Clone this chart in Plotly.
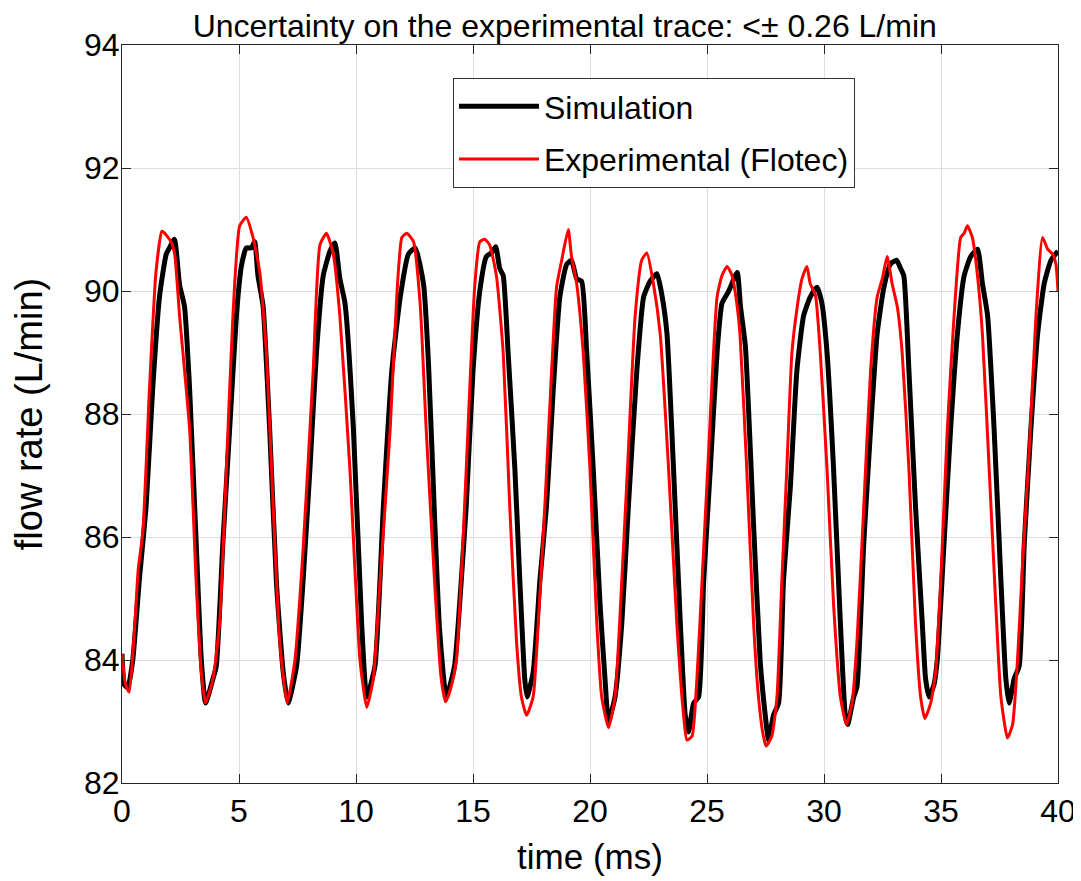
import plotly.graph_objects as go

# ---- data ----
sim_t = [0.0, 0.1, 0.25, 0.46, 0.74, 1.03, 1.31, 1.6, 1.89, 2.03, 2.24, 2.46, 2.67, 2.89, 3.17, 3.39, 3.57, 3.89, 4.03,
         4.31, 4.6, 4.89, 5.1, 5.31, 5.53, 5.67, 5.81, 6.03, 6.31, 6.6, 6.89, 7.1, 7.46, 7.74, 8.03, 8.31, 8.6, 8.89,
         9.1, 9.31, 9.53, 9.89, 10.24, 10.46, 10.81, 11.17, 11.53, 11.89, 12.24, 12.53, 12.89, 13.1, 13.36, 13.57,
         13.86, 14.21, 14.5, 14.71, 15.0, 15.29, 15.57, 15.79, 15.97, 16.14, 16.29, 16.5, 16.79, 17.0, 17.21, 17.31,
         17.57, 17.86, 18.14, 18.43, 18.71, 19.0, 19.21, 19.43, 19.64, 19.86, 20.14, 20.43, 20.64, 20.79, 21.07,
         21.36, 21.64, 22.0, 22.29, 22.57, 22.86, 23.07, 23.29, 23.57, 23.86, 24.07, 24.21, 24.43, 24.64, 24.86,
         25.14, 25.43, 25.64, 25.93, 26.29, 26.43, 26.64, 26.99, 27.27, 27.49, 27.63, 27.84, 28.06, 28.27, 28.56,
         28.84, 29.13, 29.41, 29.7, 29.91, 30.13, 30.41, 30.7, 30.91, 31.01, 31.27, 31.41, 31.7, 31.99, 32.27, 32.56,
         32.84, 33.1, 33.27, 33.41, 33.63, 33.91, 34.2, 34.34, 34.49, 34.7, 34.84, 35.13, 35.41, 35.7, 35.99, 36.27,
         36.56, 36.77, 36.99, 37.27, 37.56, 37.77, 37.91, 38.13, 38.34, 38.56, 38.84, 39.13, 39.41, 39.7, 40.0]
sim_q = [84.1, 83.6, 83.55, 84.0, 85.3, 86.5, 88.4, 89.9, 90.6, 90.7, 90.84, 90.1, 89.75, 88.4, 85.9, 84.0, 83.3, 83.7,
         83.9, 85.9, 87.75, 89.6, 90.4, 90.7, 90.7, 90.8, 90.25, 89.75, 87.75, 85.26, 83.8, 83.3, 83.9, 85.3, 87.1,
         89.0, 90.25, 90.65, 90.78, 90.2, 89.8, 87.75, 84.6, 83.4, 83.9, 86.5, 88.7, 89.9, 90.6, 90.7, 90.1, 88.8,
         86.3, 84.5, 83.4, 83.9, 85.3, 86.5, 88.7, 90.0, 90.56, 90.62, 90.72, 90.37, 90.25, 89.0, 87.1, 85.3, 83.7,
         83.4, 83.8, 85.3, 86.5, 88.4, 89.9, 90.43, 90.5, 90.2, 90.16, 89.0, 87.1, 84.9, 83.7, 83.0, 83.4, 84.6, 86.5,
         88.7, 89.9, 90.16, 90.28, 89.94, 89.3, 87.1, 84.6, 83.1, 82.83, 83.3, 83.4, 85.3, 87.1, 89.0, 89.8, 90.0,
         90.3, 89.75, 89.1, 86.2, 84.0, 83.1, 82.7, 83.1, 83.3, 85.3, 86.8, 88.7, 89.6, 89.9, 90.06, 89.8, 89.0, 87.1,
         84.6, 83.1, 82.95, 83.4, 83.57, 85.9, 87.75, 89.3, 90.06, 90.44, 90.5, 90.37, 90.25, 88.7, 86.5, 84.6, 83.7,
         83.4, 83.6, 84.0, 85.9, 87.75, 89.3, 90.25, 90.56, 90.68, 90.12, 89.6, 87.75, 85.3, 83.7, 83.3, 83.7, 83.9,
         85.9, 87.75, 89.3, 90.12, 90.5, 90.65]

exp_t = [0.0, 0.15, 0.31, 0.5, 0.7, 0.89, 1.17, 1.45, 1.7, 1.8, 2.1, 2.25, 2.46, 2.89, 3.17, 3.39, 3.57, 3.89, 4.17,
         4.46, 4.74, 5.03, 5.31, 5.6, 5.89, 6.17, 6.46, 6.74, 7.06, 7.39, 7.74, 8.17, 8.46, 8.74, 9.03, 9.31, 9.74,
         10.17, 10.46, 10.74, 11.03, 11.46, 11.74, 11.96, 12.17, 12.46, 12.74, 13.0, 13.36, 13.64, 13.83, 14.07,
         14.29, 14.57, 14.86, 15.07, 15.29, 15.5, 15.71, 16.0, 16.29, 16.57, 16.86, 17.07, 17.29, 17.57, 17.79,
         18.07, 18.36, 18.57, 18.79, 19.07, 19.21, 19.43, 19.71, 20.0, 20.29, 20.5, 20.79, 21.07, 21.36, 21.64,
         21.93, 22.21, 22.43, 22.71, 23.0, 23.36, 23.71, 24.0, 24.14, 24.36, 24.57, 24.79, 25.07, 25.43, 25.64,
         25.86, 26.07, 26.29, 26.41, 26.7, 26.99, 27.2, 27.41, 27.53, 27.77, 27.99, 28.2, 28.41, 28.63, 28.84,
         29.06, 29.27, 29.41, 29.63, 29.84, 30.13, 30.41, 30.7, 30.96, 31.2, 31.41, 31.7, 31.99, 32.27, 32.49,
         32.7, 32.91, 33.13, 33.34, 33.63, 33.91, 34.13, 34.31, 34.56, 34.77, 34.99, 35.27, 35.56, 35.84, 35.99,
         36.13, 36.34, 36.56, 36.77, 37.06, 37.34, 37.56, 37.84, 38.06, 38.27, 38.49, 38.77, 39.06, 39.34, 39.56,
         39.77, 39.91, 40.0]
exp_q = [84.1, 83.6, 83.48, 84.3, 85.5, 86.07, 88.38, 90.3, 90.97, 90.95, 90.8, 90.6, 89.6, 87.75, 85.26, 83.8, 83.3,
         83.7, 84.6, 87.1, 89.6, 91.06, 91.2, 90.87, 90.3, 89.0, 86.5, 84.3, 83.3, 84.0, 85.8, 88.7, 90.75, 90.94,
         90.6, 89.6, 87.1, 84.0, 83.23, 83.7, 85.3, 87.75, 89.9, 90.87, 90.94, 90.8, 89.8, 87.75, 85.26, 83.7, 83.32,
         83.57, 84.0, 85.9, 88.4, 90.06, 90.8, 90.84, 90.75, 90.25, 89.0, 86.5, 84.3, 83.4, 83.1, 83.4, 84.6, 86.5,
         88.7, 90.06, 90.5, 91.0, 90.56, 90.12, 89.0, 87.1, 84.6, 83.4, 82.9, 83.4, 85.3, 87.4, 89.6, 90.5, 90.62,
         90.12, 89.3, 87.1, 84.6, 83.1, 82.7, 82.76, 83.7, 85.3, 87.4, 89.9, 90.25, 90.4, 90.25, 89.75, 89.3, 87.1,
         84.6, 83.4, 82.76, 82.6, 82.76, 83.4, 85.3, 87.1, 89.0, 89.7, 90.2, 90.4, 90.12, 89.94, 89.0, 87.1, 84.9,
         83.4, 82.95, 83.3, 84.3, 86.5, 88.7, 89.9, 90.2, 90.56, 90.12, 89.75, 89.0, 87.1, 84.6, 83.4, 83.05, 83.3,
         83.8, 85.3, 87.75, 89.6, 90.87, 90.94, 91.06, 90.87, 90.25, 89.3, 87.1, 84.9, 83.4, 82.73, 82.95, 84.0, 85.6,
         87.4, 89.6, 90.87, 90.68, 90.6, 90.44, 90.0]

x_ticks = [0, 5, 10, 15, 20, 25, 30, 35, 40]
y_ticks = [82, 84, 86, 88, 90, 92, 94]

title_text = "Uncertainty on the experimental trace: <\u00b1 0.26 L/min"
FONT = "Liberation Sans, Arial, sans-serif"

fig = go.Figure()
fig.add_trace(go.Scatter(x=sim_t, y=sim_q, mode="lines", name="Simulation", legendgroup="a",
                         line=dict(color="black", width=5, shape="spline", smoothing=0.5)))
fig.add_trace(go.Scatter(x=exp_t, y=exp_q, mode="lines", name="Experimental (Flotec)", legendgroup="b",
                         line=dict(color="#ff0000", width=3, shape="spline", smoothing=0.5)))

axis_common = dict(showline=True, linecolor="#262626", linewidth=1, mirror="ticks", ticks="inside",
                   ticklen=9, tickcolor="#262626", showgrid=True, gridcolor="#dedede", gridwidth=1,
                   zeroline=False, automargin=False,
                   tickfont=dict(size=32, color="#000000", family=FONT))

fig.update_xaxes(range=[0, 40], tickvals=x_ticks, ticktext=[str(v) for v in x_ticks],
                 ticklabelstandoff=0,
                 title=dict(text="time (ms)", font=dict(size=35, family=FONT, color="black"), standoff=16),
                 **axis_common)
fig.update_yaxes(range=[82, 94], tickvals=y_ticks, ticktext=[str(v) for v in y_ticks],
                 ticklabelstandoff=-5,
                 title=dict(text="flow rate (L/min)", font=dict(size=38, family=FONT, color="black"), standoff=34),
                 **axis_common)

# The page body adds an 8px offset, so the figure is 8px smaller than the window.
fig.update_layout(
    width=1073, height=873,
    margin=dict(l=114, r=23, t=37, b=98),
    paper_bgcolor="white", plot_bgcolor="white",
    font=dict(family=FONT, color="black"),
    title=dict(text=title_text, font=dict(size=32, family=FONT, color="black"),
               x=0.473, xref="paper", xanchor="center", y=0.9794, yref="container", yanchor="middle",
               automargin=False),
    legend=dict(x=0.3536, y=0.9553, xanchor="left", yanchor="top", bgcolor="white",
                bordercolor="#333333", borderwidth=1, font=dict(size=32, family=FONT, color="black"),
                tracegroupgap=8, traceorder="grouped", itemwidth=80),
    showlegend=True,
)

fig.write_html("out.html")
